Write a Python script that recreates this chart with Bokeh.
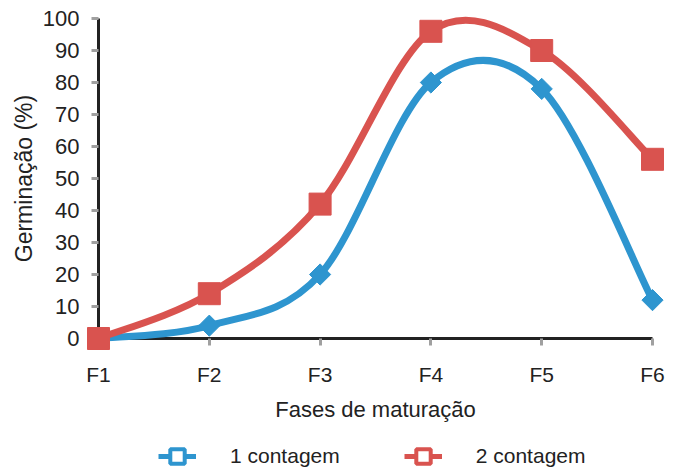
import math
from bokeh.plotting import figure
from bokeh.layouts import column
from bokeh.models import Range1d, FixedTicker, Legend, LegendItem, ColumnDataSource
from bokeh.embed import file_html
from bokeh.resources import INLINE

phases = ["F1", "F2", "F3", "F4", "F5", "F6"]
contagem1 = [0, 4, 20, 80, 78, 12]
contagem2 = [0, 14, 42, 96, 90, 56]
y_ticks = [0, 10, 20, 30, 40, 50, 60, 70, 80, 90, 100]
labels = ["1 contagem", "2 contagem"]

BLUE = "#2e95cf"
RED = "#d9534f"
FONT = "Liberation Sans"

xs = list(range(1, len(phases) + 1))


def smooth_segments(xv, yv):
    n = len(xv)
    d = dict(x0=[], y0=[], x1=[], y1=[], cx0=[], cy0=[], cx1=[], cy1=[])
    for i in range(n - 1):
        a = max(i - 1, 0)
        b = min(i + 2, n - 1)
        d["x0"].append(xv[i]); d["y0"].append(yv[i])
        d["x1"].append(xv[i + 1]); d["y1"].append(yv[i + 1])
        d["cx0"].append(xv[i] + (xv[i + 1] - xv[a]) / 6)
        d["cy0"].append(yv[i] + (yv[i + 1] - yv[a]) / 6)
        d["cx1"].append(xv[i + 1] - (xv[b] - xv[i]) / 6)
        d["cy1"].append(yv[i + 1] - (yv[b] - yv[i]) / 6)
    return ColumnDataSource(d)


p = figure(width=685, height=430, output_backend="svg", toolbar_location=None,
           x_range=Range1d(1, 6), y_range=Range1d(0, 100),
           min_border_left=98, min_border_right=33, min_border_top=18, min_border_bottom=92)
p.grid.visible = False
p.outline_line_color = None
p.background_fill_color = "white"
p.border_fill_color = "white"

for ax in (p.xaxis[0], p.yaxis[0]):
    ax.axis_line_color = "#222222"
    ax.axis_line_width = 3
    ax.major_tick_line_color = "#a0a0a0"
    ax.major_tick_line_width = 3
    ax.major_tick_in = 0
    ax.major_tick_out = 7
    ax.minor_tick_line_color = None
    ax.major_label_text_font = FONT
    ax.major_label_text_color = "#222222"
    ax.axis_label_text_font = FONT
    ax.axis_label_text_font_style = "normal"
    ax.axis_label_text_color = "#222222"

p.xaxis.ticker = FixedTicker(ticks=xs)
p.xaxis.major_label_overrides = {x: lab for x, lab in zip(xs, phases)}
p.xaxis.major_label_text_font_size = "21px"
p.xaxis.major_label_standoff = 17
p.xaxis.axis_label = "Fases de maturação"
p.xaxis.axis_label_text_font_size = "22px"
p.xaxis.axis_label_standoff = 8

p.yaxis.ticker = FixedTicker(ticks=y_ticks)
p.yaxis.major_label_text_font_size = "22px"
p.yaxis.major_label_standoff = 12
p.yaxis.axis_label = "Germinação (%)"
p.yaxis.axis_label_text_font_size = "23px"
p.yaxis.axis_label_standoff = 3

# (values, colour, marker size, marker angle in chart, marker angle in legend)
series = [(contagem1, BLUE, 15, math.pi / 4, 0.26), (contagem2, RED, 22, 0.0, 0.0)]
for vals, col, sz, ang, _ in series:
    p.bezier(source=smooth_segments(xs, vals), x0="x0", y0="y0", x1="x1", y1="y1",
             cx0="cx0", cy0="cy0", cx1="cx1", cy1="cy1",
             line_color=col, line_width=7, level="overlay")
    p.scatter(xs, vals, marker="square", size=sz, angle=ang, fill_color=col, line_color=col,
              line_width=1, level="overlay")

# legend strip below the chart (its frame aligns with the chart's frame)
lf = figure(width=685, height=40, output_backend="svg", toolbar_location=None,
            x_range=Range1d(0, 1), y_range=Range1d(0, 1),
            min_border_left=98, min_border_right=33, min_border_top=0, min_border_bottom=0)
lf.axis.visible = False
lf.grid.visible = False
lf.outline_line_color = None
lf.background_fill_color = "white"
lf.border_fill_color = "white"
items = []
for (vals, col, sz, _, lang), lab in zip(series, labels):
    lr = lf.line(xs, vals, line_color=col, line_width=5, visible=False)
    sr = lf.scatter(xs, vals, marker="square", size=15, angle=lang, fill_color="white",
                    line_color=col, line_width=4, visible=False)
    items.append(LegendItem(label=lab, renderers=[lr, sr]))

legend = Legend(items=items, orientation="horizontal", location=(60, -4),
                border_line_color=None, background_fill_alpha=0,
                inactive_fill_alpha=0,
                glyph_width=38, glyph_height=36, label_standoff=34, spacing=64,
                label_text_font=FONT, label_text_font_size="21px", label_text_color="#222222",
                padding=0, margin=0)
lf.add_layout(legend, "center")

layout = column(p, lf, spacing=0)
open("out.html", "w").write(file_html(layout, INLINE))
